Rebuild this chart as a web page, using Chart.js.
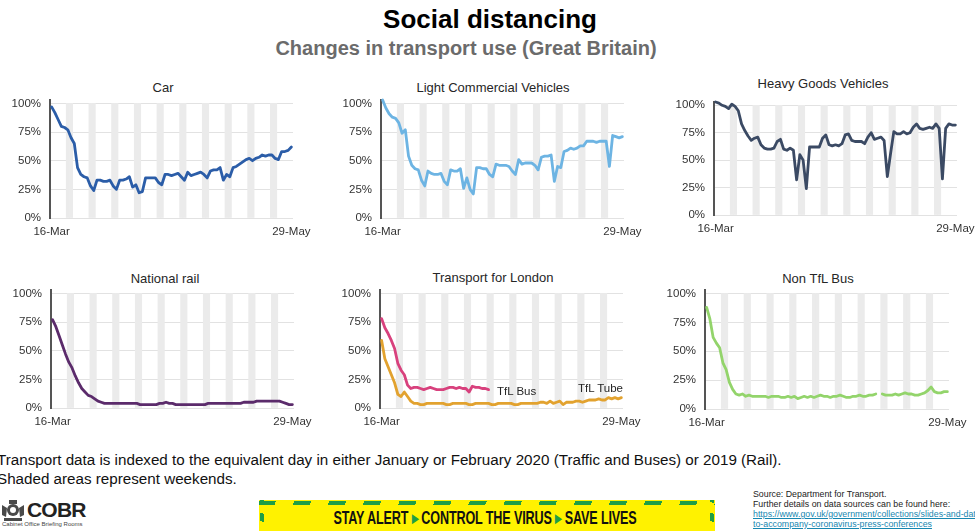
<!DOCTYPE html>
<html>
<head>
<meta charset="utf-8">
<script src="https://cdn.jsdelivr.net/npm/chart.js@4.4.1/dist/chart.umd.min.js"></script>
<style>
  html, body { margin: 0; padding: 0; background: #fff; }
  #page { position: relative; width: 975px; height: 531px; overflow: hidden; font-family: Arial, "Liberation Sans", sans-serif; }
  .abs { position: absolute; white-space: nowrap; }
  .ptitle { position: absolute; font-size: 13px; color: #262626; transform: translate(-50%, -50%); white-space: nowrap; }
  canvas { position: absolute; }
  .src { font-size: 8.8px; color: #222; line-height: 10px; }
  .src a { color: #1787b0; text-decoration: underline; }
  .lbl { position: absolute; font-size: 11.5px; color: #262626; white-space: nowrap; }
</style>
</head>
<body>
<div id="page">
  <div class="abs" style="left:490px;top:19px;transform:translate(-50%,-50%);font-size:26px;font-weight:bold;color:#000;">Social distancing</div>
  <div class="abs" style="left:466px;top:48px;transform:translate(-50%,-50%);font-size:20px;font-weight:bold;color:#6b6b6b;">Changes in transport use (Great Britain)</div>

  <div class="ptitle" style="left:163px;top:87px;">Car</div>
  <div class="ptitle" style="left:493px;top:87px;">Light Commercial Vehicles</div>
  <div class="ptitle" style="left:823px;top:83px;">Heavy Goods Vehicles</div>
  <div class="ptitle" style="left:165px;top:278px;">National rail</div>
  <div class="ptitle" style="left:493px;top:277px;">Transport for London</div>
  <div class="ptitle" style="left:818px;top:278px;">Non TfL Bus</div>

  <canvas id="c-car"></canvas>
  <canvas id="c-lcv"></canvas>
  <canvas id="c-hgv"></canvas>
  <canvas id="c-rail"></canvas>
  <canvas id="c-tfl"></canvas>
  <canvas id="c-bus"></canvas>

  <div class="lbl" style="left:497px;top:385px;">TfL Bus</div>
  <div class="lbl" style="left:578px;top:382px;">TfL Tube</div>

  <div class="abs" style="left:-3px;top:450px;font-size:15.2px;color:#111;line-height:19px;">Transport data is indexed to the equivalent day in either January or February 2020 (Traffic and Buses) or 2019 (Rail).<br>Shaded areas represent weekends.</div>

  <svg class="abs" style="left:0;top:499px;" width="26" height="24" viewBox="0 0 26 24">
    <g fill="#4a4a4a">
      <circle cx="13" cy="11" r="6"/>
      <rect x="9" y="1" width="8" height="4"/>
      <path d="M2 6 L7 9 L6 18 L2 16 Z"/>
      <path d="M24 6 L19 9 L20 18 L24 16 Z"/>
      <rect x="4" y="19" width="18" height="3"/>
    </g>
    <circle cx="13" cy="11" r="3" fill="#fff"/>
  </svg>
  <div class="abs" style="left:27px;top:498px;font-size:21px;font-weight:bold;color:#222;letter-spacing:-0.8px;">COBR</div>
  <div class="abs" style="left:2px;top:521px;font-size:6px;color:#444;">Cabinet Office Briefing Rooms</div>

  <div class="abs" style="left:259px;top:500px;width:456px;height:40px;background:#fff200;overflow:hidden;">
    <div class="abs" style="left:0;top:1px;width:456px;height:4px;background:repeating-linear-gradient(110deg, #1f9e45 0 16px, transparent 16px 33px);"></div>
    <div class="abs" style="left:1px;top:0;width:4px;height:40px;background:repeating-linear-gradient(20deg, #1f9e45 0 8px, transparent 8px 18px);"></div>
    <div class="abs" style="right:1px;top:0;width:4px;height:40px;background:repeating-linear-gradient(20deg, #1f9e45 0 8px, transparent 8px 18px);"></div>
    <div class="abs" style="left:226px;top:18px;transform:translate(-50%,-50%) scaleX(0.72);font-weight:bold;font-size:17.5px;color:#111;letter-spacing:-0.2px;">STAY ALERT<span style="color:#1f9e45;"> &#9656; </span>CONTROL THE VIRUS<span style="color:#1f9e45;"> &#9656; </span>SAVE LIVES</div>
  </div>

  <div class="abs src" style="left:753px;top:489px;">Source: Department for Transport.<br>Further details on data sources can be found here:<br><a>https://www.gov.uk/government/collections/slides-and-data-</a><br><a>to-accompany-coronavirus-press-conferences</a></div>
</div>

<script>
  // 16-Mar .. 29-May 2020, one value per day (index 0 = 16-Mar)
  const DAYS = [];
  for (let d = 16; d <= 31; d++) DAYS.push(d + "-Mar");
  for (let d = 1; d <= 30; d++) DAYS.push(d + "-Apr");
  for (let d = 1; d <= 29; d++) DAYS.push(d + "-May");

  const WEEKENDS = [
    "21-Mar", "22-Mar", "28-Mar", "29-Mar", "4-Apr", "5-Apr", "11-Apr", "12-Apr",
    "18-Apr", "19-Apr", "25-Apr", "26-Apr", "2-May", "3-May", "9-May", "10-May",
    "16-May", "17-May", "23-May", "24-May"
  ];

  const X_TICKS = ["16-Mar", "29-May"];
  const Y_TICKS = [0, 25, 50, 75, 100];

  const CAR = [97,92,86,80,79,77,70,65,44,38, 36,35,28,24,33,33,32,32,33,28,
    25,33,33,34,36,27,29,22,23,35, 35,35,35,31,29,38,38,37,38,39,
    36,33,40,37,38,39,40,38,35,41, 42,42,44,33,38,36,44,45,47,49,
    51,52,50,52,53,55,54,55,55,52, 51,58,58,59,62];

  const LCV = [103,96,91,88,87,83,74,77,54,46, 43,42,33,28,41,39,38,38,39,32,
    29,42,41,41,43,26,35,25,21,44, 44,43,43,38,36,47,46,46,46,45,
    41,38,51,47,48,48,48,46,42,53, 54,54,55,32,45,44,58,59,61,60,
    61,63,63,67,67,67,66,67,67,67, 45,72,71,70,71];

  const HGV = [103,102,100,99,97,101,99,95,83,77, 72,68,70,71,64,61,60,60,61,67,
    69,60,59,61,59,32,55,50,24,62, 62,62,62,70,73,64,63,64,63,65,
    73,74,68,67,67,67,65,71,75,69, 70,71,68,35,56,76,74,74,76,74,
    75,80,83,79,78,79,80,79,83,79, 33,79,83,82,82];

  const RAIL = [77,71,63,55,47,40,35,28,22,17, 14,11,10,8,6,5,4,4,4,4,
    4,4,4,4,4,4,4,3,3,3, 3,3,3,4,4,5,4,4,3,3,
    3,3,3,3,3,3,3,3,4,4, 4,4,4,4,4,4,4,4,4,5,
    5,5,5,6,6,6,6,6,6,6, 6,5,4,3,3];

  const TFL_BUS = [78,70,65,59,52,39,33,29,20,17, 18,18,17,16,17,18,17,16,16,16,
    17,18,18,17,18,17,17,14,19,18, 18,17,17,16,null,null,null,null,null,null,
    null,null,null,null,null,null,null,null,null,null, null,null,null,null,null,null,null,null,null,null,
    null,null,null,null,null,null,null,null,null,null, null,null,null,null,null];

  const TFL_TUBE = [59,43,36,29,22,12,10,14,10,6, 4,4,3,3,4,4,4,4,4,4,
    3,3,4,4,4,4,4,3,3,4, 4,4,4,4,3,3,4,4,4,4,
    4,3,3,4,4,4,4,4,4,5, 5,4,6,4,5,6,3,5,5,5,
    6,6,5,6,7,7,7,8,7,7, 9,8,9,8,9];

  const NON_TFL_BUS = [88,78,62,57,53,40,34,23,17,13, 12,13,11,12,11,11,11,11,11,10,
    11,11,11,10,10,11,10,11,9,10, 11,10,11,10,11,12,11,11,10,11,
    11,12,11,10,10,11,11,12,11,11, 12,12,13,null,13,12,12,12,13,12,
    13,14,13,13,12,12,13,14,16,19, 15,14,14,15,15];

  const Y_MAX = 103;
  const AXIS_W = 45;
  const PAD_TOP = 8;
  const PAD_RIGHT = 30;
  const X_AXIS_H = 22;

  const weekendBars = DAYS.map((d) => (WEEKENDS.includes(d) ? 100 : null));

  function line(data, color, label) {
    return {
      type: "line", label, data, borderColor: color, borderWidth: 2.8,
      pointRadius: 0, tension: 0, spanGaps: false, clip: false, order: 1,
      borderJoinStyle: "round", borderCapStyle: "round"
    };
  }

  // x0/x1: plot left/right, y100/y0: pixel rows of 100% and 0%
  function makeChart(id, lines, x0, x1, y100, y0) {
    const perPct = (y0 - y100) / 100;
    const plotTop = Math.round(y100 - (Y_MAX - 100) * perPct);
    const canvas = document.getElementById(id);
    canvas.width = (x1 - x0) + AXIS_W + PAD_RIGHT;
    canvas.height = PAD_TOP + (y0 - plotTop) + X_AXIS_H;
    canvas.style.left = (x0 - AXIS_W) + "px";
    canvas.style.top = (plotTop - PAD_TOP) + "px";

    const tickFont = { family: "Arial, 'Liberation Sans', sans-serif", size: 11.5 };

    return new Chart(canvas, {
      type: "bar",
      data: {
        labels: DAYS,
        datasets: [
          {
            type: "bar", data: weekendBars, backgroundColor: "#ebebeb",
            categoryPercentage: 1, barPercentage: 1, order: 2
          },
          ...lines
        ]
      },
      options: {
        responsive: false,
        animation: false,
        events: [],
        layout: { padding: { top: PAD_TOP, right: PAD_RIGHT, left: 0, bottom: 0 } },
        plugins: { legend: { display: false }, tooltip: { enabled: false }, title: { display: false } },
        scales: {
          x: {
            grid: { display: false, drawTicks: false },
            border: { display: false },
            ticks: {
              autoSkip: false, maxRotation: 0, minRotation: 0, padding: 7,
              color: "#333", font: tickFont,
              callback: (v, i) => (i === 0 ? X_TICKS[0] : i === DAYS.length - 1 ? X_TICKS[1] : "")
            },
            afterFit(s) { s.height = X_AXIS_H; s.paddingLeft = 0; s.paddingRight = 0; }
          },
          y: {
            min: 0, max: Y_MAX,
            afterBuildTicks(s) { s.ticks = Y_TICKS.map((v) => ({ value: v })); },
            ticks: { padding: 9, color: "#333", font: tickFont, callback: (v) => v + "%" },
            grid: { color: "#e2e2e2", drawTicks: false, lineWidth: 1 },
            border: { color: "#555", width: 2 },
            afterFit(s) { s.width = AXIS_W; s.paddingTop = 0; s.paddingBottom = 0; }
          }
        }
      }
    });
  }

  makeChart("c-car", [line(CAR, "#2b5da8", "Car")], 50, 293, 103, 218);
  makeChart("c-lcv", [line(LCV, "#6db4e3", "LCV")], 381, 624, 103, 218);
  makeChart("c-hgv", [line(HGV, "#3b4a64", "HGV")], 714, 957, 105, 215);
  makeChart("c-rail", [line(RAIL, "#5b2b6b", "National rail")], 51, 294, 293, 408);
  makeChart("c-tfl", [line(TFL_BUS, "#d8417d", "TfL Bus"), line(TFL_TUBE, "#e2a22f", "TfL Tube")], 380, 623, 293, 408);
  makeChart("c-bus", [line(NON_TFL_BUS, "#93d46b", "Non TfL Bus")], 705, 949, 293, 409);
</script>
</body>
</html>
